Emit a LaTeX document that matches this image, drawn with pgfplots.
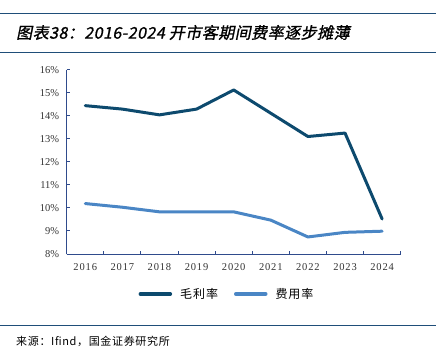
\documentclass[border=0pt]{standalone}
\usepackage{pgfplots}
\pgfplotsset{compat=1.18}
\usepackage{fontspec}
\setmainfont{Liberation Serif}
\newfontfamily\cjk{Noto Sans CJK SC}
\newfontfamily\cjkt{Noto Sans CJK SC}[FakeSlant=0.2,FakeBold=1.2,LetterSpace=3]
\definecolor{dark}{HTML}{0D4A6E}
\definecolor{light}{HTML}{4A86C5}
\definecolor{axc}{HTML}{2F4B8C}
\definecolor{rule}{HTML}{1F4E79}
\begin{document}
\begin{tikzpicture}
\useasboundingbox (0,0) rectangle (443bp,-359bp);
\draw[rule,line width=1bp] (0,-13.3bp) -- (436bp,-13.3bp);
\draw[rule,line width=1bp] (0,-52.3bp) -- (436bp,-52.3bp);
\draw[rule,line width=1bp] (0,-325bp) -- (436bp,-325bp);
\node[anchor=west,inner sep=0] at (16bp,-32.5bp) {\fontsize{16bp}{18bp}\cjkt 图表38：2016-2024 开市客期间费率逐步摊薄};
\node[anchor=west,inner sep=0] at (16bp,-341bp) {\fontsize{11bp}{13bp}\cjk\addfontfeatures{LetterSpace=6} 来源：Ifind，国金证券研究所};
\begin{axis}[
  at={(66.7bp,-254bp)}, anchor=south west,
  scale only axis, width=334bp, height=184.3bp,
  xmin=-0.5, xmax=8.5, ymin=8, ymax=16,
  axis x line*=bottom, axis y line*=left,
  axis line style={axc,line width=1bp,-},
  xtick={-0.5,0.5,...,8.5},
  x tick label as interval,
  xticklabels={2016,2017,2018,2019,2020,2021,2022,2023,2024},
  ytick={8,9,...,16},
  yticklabel={\pgfmathprintnumber{\tick}\%},
  /pgf/number format/assume math mode=true,
  tick align=inside, major tick length=3.5bp,
  tick style={axc,line width=1bp},
  ticklabel style={font=\fontsize{10.5bp}{12bp}\selectfont, text=black!80},
  yticklabel style={xshift=-4bp},
  xticklabel style={yshift=-6bp, font=\fontsize{10.5bp}{12bp}\selectfont\addfontfeatures{LetterSpace=8}},
  legend columns=2,
  legend style={at={(0.48,-0.217)}, anchor=center, draw=none, fill=none,
    font=\fontsize{12bp}{14bp}\cjk\addfontfeatures{LetterSpace=8}, column sep=6bp,
    /tikz/every even column/.append style={column sep=14bp}},
  legend image code/.code={\draw[#1,line width=3.5bp,line cap=round] (0bp,0bp) -- (30bp,0bp);},
]
\addplot[dark, line width=3bp, line join=round, line cap=round] coordinates {
 (0,14.44) (1,14.29) (2,14.04) (3,14.29) (4,15.12) (5,14.11) (6,13.10) (7,13.25) (8,9.52)};
\addlegendentry{毛利率}
\addplot[light, line width=3bp, line join=round, line cap=round] coordinates {
 (0,10.19) (1,10.03) (2,9.83) (3,9.83) (4,9.83) (5,9.47) (6,8.74) (7,8.94) (8,8.99)};
\addlegendentry{费用率}
\end{axis}
\end{tikzpicture}
\end{document}
